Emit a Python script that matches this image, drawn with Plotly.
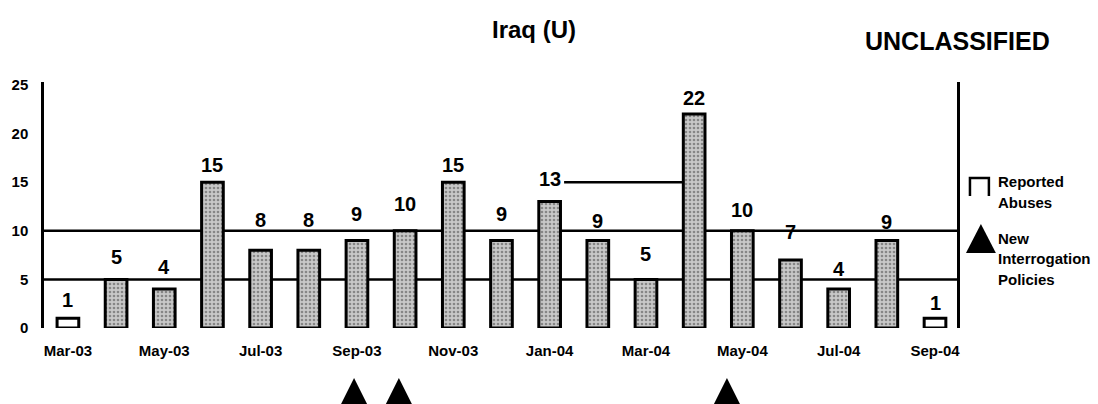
import plotly.graph_objects as go

# ---------------- data ----------------
months = ["Mar-03", "Apr-03", "May-03", "Jun-03", "Jul-03", "Aug-03", "Sep-03",
          "Oct-03", "Nov-03", "Dec-03", "Jan-04", "Feb-04", "Mar-04", "Apr-04",
          "May-04", "Jun-04", "Jul-04", "Aug-04", "Sep-04"]
reported_abuses = [1, 5, 4, 15, 8, 8, 9, 10, 15, 9, 13, 9, 5, 22, 10, 7, 4, 9, 1]
open_months = ["Mar-03", "Sep-04"]          # drawn as open brackets (no stipple)
tick_months = months[::2]
y_ticks = [0, 5, 10, 15, 20, 25]
grid_values = [5, 10]
# new interrogation policies, position on the month axis (month index)
policy_positions = [5.94, 6.87, 13.68]

# ---------------- styling / geometry ----------------
label_gap_px = [10, 14, 14, 9, 22, 22, 18, 19, 9, 18, 15, 11, 17, 8, 13, 20, 12, 10, 7]
FONT = "Liberation Sans, Arial, sans-serif"
W, H = 1098, 404
L, R, T, B = 41, 957, 82, 328


def px_x(px):
    return (px - L) / (R - L)


def px_y(py):
    return (B - py) / (B - T)


idx = list(range(len(months)))
is_open = [m in open_months for m in months]

fig = go.Figure()
fig.add_trace(go.Bar(
    x=idx, y=reported_abuses, width=0.45,
    marker=dict(
        color=["white" if o else "#c8c8c8" for o in is_open],
        line=dict(color="black", width=3),
        pattern=dict(shape=["" if o else "." for o in is_open],
                     fgcolor="#111111", size=4, solidity=0.35),
    ),
    showlegend=False, hoverinfo="x+y",
))

annotations = []
for i, v in enumerate(reported_abuses):
    annotations.append(dict(
        x=i, y=v, xref="x", yref="y", text=str(v), showarrow=False,
        yanchor="bottom", yshift=label_gap_px[i] - 5,
        font=dict(family=FONT, size=20, color="black", weight="bold"),
    ))

annotations += [
    dict(x=px_x(533), y=px_y(29), xref="paper", yref="paper", text="Iraq (U)",
         showarrow=False, xanchor="center", yanchor="middle",
         font=dict(family=FONT, size=24, color="black", weight="bold")),
    dict(x=px_x(958), y=px_y(41), xref="paper", yref="paper", text="UNCLASSIFIED",
         showarrow=False, xanchor="center", yanchor="middle",
         font=dict(family=FONT, size=25, color="black", weight="bold")),
]
legend_lines = [("Reported", 181), ("Abuses", 202), ("New", 238),
                ("Interrogation", 258), ("Policies", 279)]
for txt, py in legend_lines:
    annotations.append(dict(
        x=px_x(996), y=px_y(py), xref="paper", yref="paper", text=txt,
        showarrow=False, xanchor="left", yanchor="middle",
        font=dict(family=FONT, size=15, color="black", weight="bold")))

shapes = []
for g in grid_values:
    shapes.append(dict(type="line", xref="paper", yref="y", x0=0, x1=1, y0=g, y1=g,
                       line=dict(color="black", width=2.5), layer="below"))
# faint remnant of the 15 gridline between Jan-04 and Apr-04
shapes.append(dict(type="line", xref="x", yref="y", x0=10.3, x1=12.75, y0=15, y1=15,
                   line=dict(color="black", width=2.5), layer="below"))

# policy triangles below the month labels
for p in policy_positions:
    shapes.append(dict(type="path", xref="x", xsizemode="pixel", xanchor=p,
                       yref="paper", ysizemode="pixel", yanchor=px_y(378),
                       path="M0,0 L-21,-42 L21,-42 Z",
                       fillcolor="black", line=dict(width=0)))

# legend symbols
shapes.append(dict(type="path", xref="paper", yref="paper",
                   path=f"M{px_x(970)},{px_y(196)} L{px_x(970)},{px_y(178)} "
                        f"L{px_x(989)},{px_y(178)} L{px_x(989)},{px_y(196)}",
                   line=dict(color="black", width=2.5)))
shapes.append(dict(type="path", xref="paper", yref="paper",
                   path=f"M{px_x(981)},{px_y(224)} L{px_x(966)},{px_y(253)} "
                        f"L{px_x(996)},{px_y(253)} Z",
                   fillcolor="black", line=dict(width=0)))

fig.update_layout(
    width=W, height=H,
    margin=dict(l=L, r=W - R, t=T, b=H - B, pad=0),
    paper_bgcolor="white", plot_bgcolor="white",
    bargap=0.5,
    annotations=annotations, shapes=shapes,
    xaxis=dict(range=[(L - 65) / 48.33, (R - 65) / 48.33],
               tickvals=idx[::2], ticktext=tick_months,
               showgrid=False, zeroline=False, showline=False, ticks="",
               ticklabelstandoff=12,
               tickfont=dict(family=FONT, size=15, color="black", weight="bold")),
    yaxis=dict(range=[0, 25.3], tickvals=y_ticks,
               showgrid=False, zeroline=False, showline=True, mirror=True,
               linecolor="black", linewidth=2.5, ticks="",
               ticklabelstandoff=10,
               tickfont=dict(family=FONT, size=15, color="black", weight="bold")),
)

fig.write_html("out.html",
               config={"displayModeBar": False},
               post_script="document.body.style.margin='0';"
                           "document.body.style.overflow='hidden';")
